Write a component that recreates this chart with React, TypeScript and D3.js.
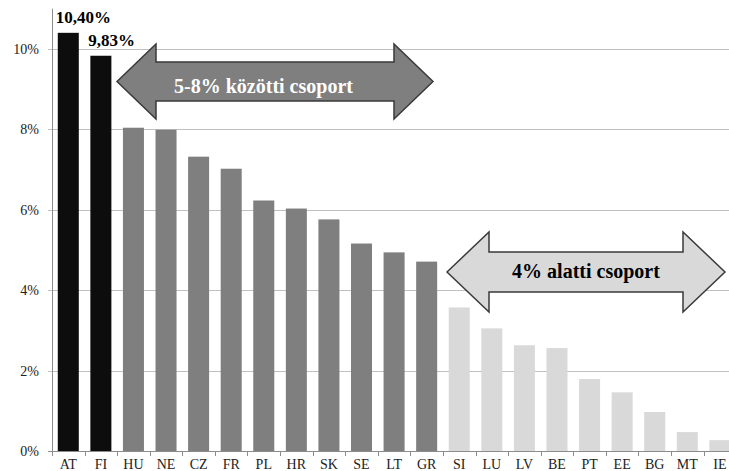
import React from "react";
import * as d3 from "d3";

const categories = ["AT","FI","HU","NE","CZ","FR","PL","HR","SK","SE","LT","GR","SI","LU","LV","BE","PT","EE","BG","MT","IE"];
const values = [10.40,9.83,8.04,7.99,7.32,7.02,6.23,6.03,5.76,5.16,4.94,4.71,3.57,3.05,2.63,2.56,1.79,1.46,0.97,0.47,0.27];
const groups = [0,0,1,1,1,1,1,1,1,1,1,1,2,2,2,2,2,2,2,2,2];
const groupColors = ["#0d0d0d","#7f7f7f","#d9d9d9"];
const yTicks = [0,2,4,6,8,10];
const valueLabels = [{ i: 0, text: "10,40%" }, { i: 1, text: "9,83%" }];
const arrows = [
  { text: "5-8% közötti csoport", fill: "#7f7f7f", textColor: "#ffffff" },
  { text: "4% alatti csoport", fill: "#d9d9d9", textColor: "#000000" },
];

const W = 729, H = 471;
const left = 52, bottom = 451, top = 8.7;
const band = 32.58;

export default function App() {
  const x = d3.scaleBand<string>().domain(categories).range([left, left + band * categories.length]).paddingInner(0.355).paddingOuter(0.1775);
  const y = d3.scaleLinear().domain([0, 11]).range([bottom, top]);
  const font = "'Liberation Serif', 'Times New Roman', serif";

  const arrowPath = (x0: number, x1: number, cy: number, hh: number, bh: number, hl: number) =>
    `M${x0},${cy} L${x0 + hl},${cy - hh} L${x0 + hl},${cy - bh} L${x1 - hl},${cy - bh} L${x1 - hl},${cy - hh} L${x1},${cy} L${x1 - hl},${cy + hh} L${x1 - hl},${cy + bh} L${x0 + hl},${cy + bh} L${x0 + hl},${cy + hh} Z`;

  const arrowDims = [
    { x0: 117, x1: 433, cy: 81.5, hh: 37.5, bh: 19.5, hl: 39, tx: 263.5, ty: 93 },
    { x0: 447, x1: 725, cy: 272, hh: 40, bh: 20, hl: 42, tx: 586, ty: 278 },
  ];

  return (
    <svg width={W} height={H} style={{ display: "block", position: "absolute", left: 0, top: 0, fontFamily: font }}>
      <rect width={W} height={H} fill="#fff" />
      {yTicks.map((t) => (
        <g key={t}>
          <line x1={48} x2={W} y1={Math.round(y(t)) + 0.5} y2={Math.round(y(t)) + 0.5} stroke={t === 0 ? "#8c8c8c" : "#c0c0c0"} strokeWidth={1} />
          <text x={39} y={y(t) + 5} textAnchor="end" fontSize={14} fill="#222">{t}%</text>
        </g>
      ))}
      {categories.map((c, i) => (
        <rect key={c} x={x(c)} y={y(values[i])} width={x.bandwidth()} height={bottom - y(values[i])} fill={groupColors[groups[i]]} />
      ))}
      <line x1={left + 0.5} x2={left + 0.5} y1={top} y2={bottom} stroke="#8c8c8c" strokeWidth={1} />
      {d3.range(categories.length + 1).map((i) => (
        <line key={i} x1={Math.round(left + band * i) + 0.5} x2={Math.round(left + band * i) + 0.5} y1={bottom} y2={bottom + 5} stroke="#8c8c8c" />
      ))}
      {categories.map((c) => (
        <text key={c} x={(x(c) as number) + x.bandwidth() / 2} y={469} textAnchor="middle" fontSize={14} fill="#222">{c}</text>
      ))}
      {valueLabels.map((v) => (
        <text key={v.i} x={(x(categories[v.i]) as number) - 2} y={y(values[v.i]) - 9.5} fontSize={17} fontWeight="bold" fill="#000">{v.text}</text>
      ))}
      {arrows.map((a, k) => {
        const d = arrowDims[k];
        return (
          <g key={k}>
            <path d={arrowPath(d.x0, d.x1, d.cy, d.hh, d.bh, d.hl)} fill={a.fill} stroke="#3a3a3a" strokeWidth={1.5} />
            <text x={d.tx} y={d.ty} textAnchor="middle" fontSize={20} fontWeight="bold" fill={a.textColor}>{a.text}</text>
          </g>
        );
      })}
    </svg>
  );
}
